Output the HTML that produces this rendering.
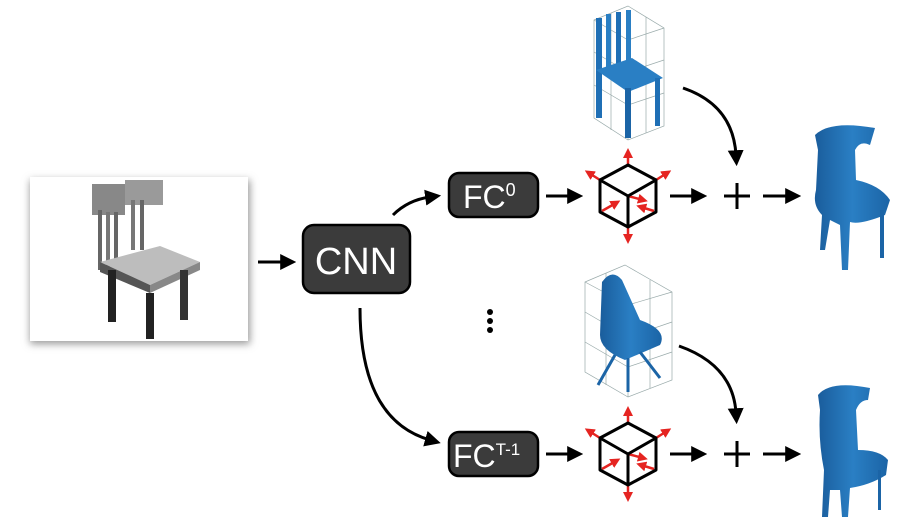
<!DOCTYPE html>
<html><head><meta charset="utf-8"><style>
html,body{margin:0;padding:0;background:#fff;width:918px;height:517px;overflow:hidden}
svg{display:block}
text{font-family:"Liberation Sans",sans-serif}
</style></head><body>
<svg width="918" height="517" viewBox="0 0 918 517">
<defs>
<marker id="ah" markerWidth="16" markerHeight="16" refX="3" refY="5" orient="auto" markerUnits="userSpaceOnUse" viewBox="0 0 10 10"><path d="M0,0 L10,5 L0,10z" fill="#000"/></marker>
<marker id="rh" viewBox="0 0 10 10" refX="5" refY="5" markerWidth="10" markerHeight="10" orient="auto" markerUnits="userSpaceOnUse"><path d="M0,0 L10,5 L0,10z" fill="#e52421"/></marker>
<filter id="sh" x="-10%" y="-10%" width="120%" height="120%"><feGaussianBlur stdDeviation="4"/></filter>
<linearGradient id="bl" x1="0" x2="1"><stop offset="0" stop-color="#1a5d9c"/><stop offset=".5" stop-color="#2a7fc4"/><stop offset="1" stop-color="#1b64a6"/></linearGradient>
</defs>

<g>
<rect x="30" y="180" width="220" height="164" fill="#999" filter="url(#sh)"/>
<rect x="30" y="177" width="218" height="164" fill="#fff"/>
<polygon points="92,184 125,184 125,215 92,215" fill="#888"/>
<polygon points="125,180 163,180 163,205 125,205" fill="#9a9a9a"/>
<rect x="98" y="210" width="4" height="60" fill="#666"/><rect x="106" y="212" width="4" height="55" fill="#777"/>
<rect x="114" y="212" width="4" height="55" fill="#666"/><rect x="131" y="200" width="4" height="50" fill="#777"/><rect x="140" y="200" width="4" height="50" fill="#666"/>
<polygon points="100,262 160,246 200,262 150,285" fill="#bdbdbd"/>
<polygon points="100,262 150,285 150,293 100,272" fill="#555"/>
<polygon points="150,285 200,262 200,270 150,293" fill="#888"/>
<rect x="108" y="270" width="8" height="52" fill="#222"/><rect x="146" y="293" width="8" height="46" fill="#222"/>
<rect x="180" y="270" width="8" height="50" fill="#333"/>
</g>

<line x1="258" y1="262" x2="285" y2="262" stroke="#000" stroke-width="3" marker-end="url(#ah)"/>

<g>
<rect x="303" y="225" width="107" height="68" rx="11" fill="#3b3b3b" stroke="#000" stroke-width="2.5"/>
<text x="356" y="274" font-size="38" fill="#fff" text-anchor="middle">CNN</text>
</g>

<path d="M393,215 Q408,200 430,197" fill="none" stroke="#000" stroke-width="3" marker-end="url(#ah)"/>
<path d="M360,308 Q360,420 430,440" fill="none" stroke="#000" stroke-width="3" marker-end="url(#ah)"/>

<g>
<rect x="449" y="173" width="89" height="44" rx="10" fill="#3b3b3b" stroke="#000" stroke-width="2.5"/>
<text x="463" y="208" font-size="32" fill="#fff">FC<tspan font-size="18" dy="-12">0</tspan></text>
</g>
<g>
<rect x="449" y="432" width="89" height="44" rx="10" fill="#3b3b3b" stroke="#000" stroke-width="2.5"/>
<text x="453" y="467" font-size="32" fill="#fff">FC<tspan font-size="17" dy="-12">T-1</tspan></text>
</g>

<g fill="#000">
<circle cx="490" cy="312" r="3"/><circle cx="490" cy="321" r="3"/><circle cx="490" cy="330" r="3"/>
</g>

<line x1="546" y1="196" x2="572" y2="196" stroke="#000" stroke-width="3" marker-end="url(#ah)"/>
<line x1="546" y1="454" x2="572" y2="454" stroke="#000" stroke-width="3" marker-end="url(#ah)"/>

<g id="cube">
<g stroke="#e52421" stroke-width="2.5" fill="none">
<line x1="628" y1="165" x2="628" y2="153" marker-end="url(#rh)"/>
<line x1="628" y1="227" x2="628" y2="239" marker-end="url(#rh)"/>
<line x1="600" y1="180" x2="589" y2="173" marker-end="url(#rh)"/>
<line x1="656" y1="180" x2="667" y2="173" marker-end="url(#rh)"/>
<line x1="628" y1="196" x2="643" y2="200" marker-end="url(#rh)"/>
<line x1="602" y1="211" x2="616" y2="203" marker-end="url(#rh)"/>
<line x1="654" y1="211" x2="641" y2="207" marker-end="url(#rh)"/>
</g>
<g stroke="#000" stroke-width="3" fill="none" stroke-linejoin="round">
<polygon points="628,165 656,180 656,212 628,227 600,212 600,180"/>
<polyline points="600,180 628,196 656,180"/><line x1="628" y1="196" x2="628" y2="227"/>
</g>
</g>
<use href="#cube" y="258"/>

<line x1="670" y1="196" x2="696" y2="196" stroke="#000" stroke-width="3" marker-end="url(#ah)"/>
<line x1="670" y1="454" x2="696" y2="454" stroke="#000" stroke-width="3" marker-end="url(#ah)"/>
<g stroke="#000" stroke-width="3"><line x1="724" y1="196" x2="750" y2="196"/><line x1="737" y1="183" x2="737" y2="209"/></g>
<g stroke="#000" stroke-width="3"><line x1="724" y1="454" x2="750" y2="454"/><line x1="737" y1="441" x2="737" y2="467"/></g>
<line x1="763" y1="196" x2="790" y2="196" stroke="#000" stroke-width="3" marker-end="url(#ah)"/>
<line x1="763" y1="454" x2="790" y2="454" stroke="#000" stroke-width="3" marker-end="url(#ah)"/>

<path d="M683,88 Q733,105 736,155" fill="none" stroke="#000" stroke-width="3" marker-end="url(#ah)"/>
<path d="M679,346 Q733,365 736,413" fill="none" stroke="#000" stroke-width="3" marker-end="url(#ah)"/>

<g>
<g stroke="#9aa" stroke-width="0.7" fill="none">
<polygon points="594,20 628,6 664,28 664,126 628,140 594,118"/>
<line x1="628" y1="40" x2="628" y2="140"/><polyline points="594,20 628,40 664,28"/>
<polyline points="594,52 628,72 664,60"/><polyline points="594,85 628,105 664,93"/>
<line x1="611" y1="13" x2="611" y2="130"/><line x1="646" y1="17" x2="646" y2="133"/>
</g>
<rect x="596" y="18" width="6" height="100" fill="#1f6fb5"/><rect x="606" y="14" width="5" height="60" fill="#2a7fc4"/>
<rect x="616" y="12" width="5" height="60" fill="#1f6fb5"/><rect x="626" y="10" width="5" height="60" fill="#2a7fc4"/>
<polygon points="596,70 632,58 663,78 628,92" fill="#2a7fc4"/>
<rect x="625" y="88" width="6" height="50" fill="#1b64a6"/><rect x="655" y="78" width="5" height="48" fill="#1f6fb5"/>
</g>

<g>
<g stroke="#9aa" stroke-width="0.7" fill="none">
<polygon points="585,282 625,265 672,292 672,380 628,397 585,372"/>
<line x1="628" y1="305" x2="628" y2="397"/><polyline points="585,282 628,305 672,292"/>
<polyline points="585,312 628,337 672,322"/><polyline points="585,342 628,367 672,352"/>
<line x1="606" y1="273" x2="606" y2="385"/><line x1="650" y1="280" x2="650" y2="388"/>
</g>
<path d="M602,282 Q612,268 622,280 L640,320 Q668,330 660,345 L625,360 Q600,350 600,335 Z" fill="url(#bl)"/>
<g stroke="#1b64a6" stroke-width="3"><line x1="615" y1="355" x2="598" y2="385"/><line x1="628" y1="358" x2="628" y2="392"/><line x1="640" y1="352" x2="660" y2="378"/></g>
</g>

<g>
<path d="M815,135 Q830,120 875,128 L870,145 Q860,140 855,150 L856,180 Q880,185 890,200 L885,215 Q860,225 850,222 L848,270 L842,270 L840,225 L830,220 L825,250 L820,250 L822,215 Q812,205 816,190 L818,150 Z" fill="url(#bl)"/>
<rect x="880" y="210" width="4" height="48" fill="#1b64a6"/>
</g>
<g>
<path d="M818,395 Q830,380 870,388 L868,400 Q860,400 856,410 L858,450 Q880,450 888,460 L886,475 Q870,485 850,488 L848,517 L842,517 L840,490 L830,490 L828,517 L822,517 L824,470 Q818,440 820,410 Z" fill="url(#bl)"/>
<rect x="878" y="470" width="3" height="40" fill="#1b64a6"/>
</g>
</svg>
</body></html>
